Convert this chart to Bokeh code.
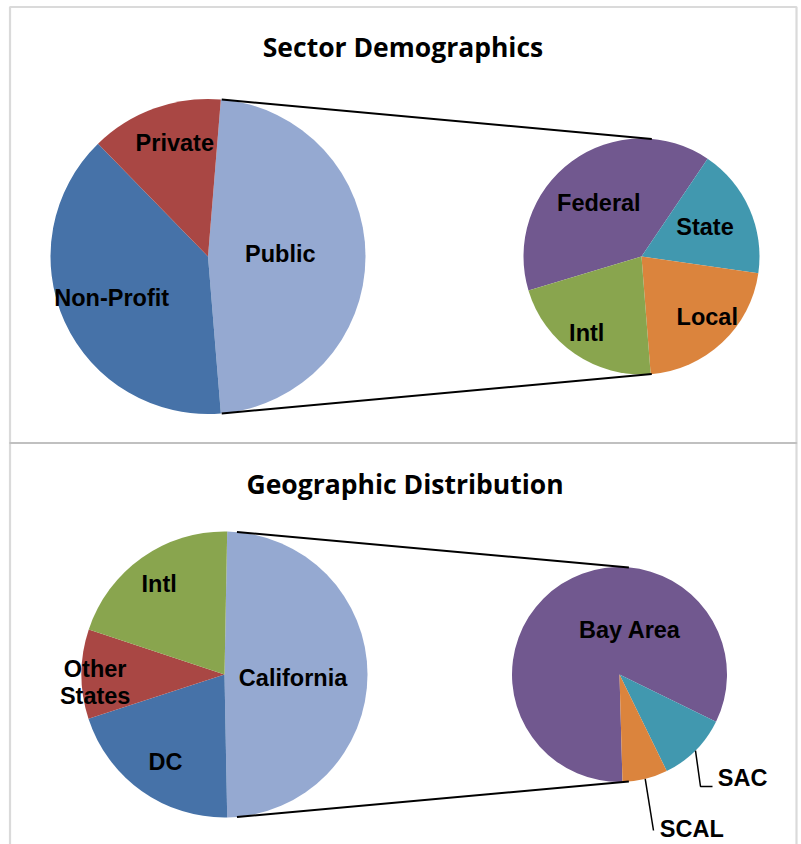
import math
from bokeh.plotting import figure
from bokeh.models import Range1d, ColumnDataSource, BoxAnnotation
from bokeh.embed import file_html
from bokeh.resources import INLINE
from bokeh.core.properties import value

# ---------------- data ----------------
titles = ["Sector Demographics", "Geographic Distribution"]

sector_labels = ["Public", "Non-Profit", "Private"]
sector_values = [47.4, 39.0, 13.6]

public_labels = ["Federal", "State", "Local", "Intl"]
public_values = [39.1, 17.8, 21.5, 21.6]

geo_labels = ["California", "DC", "Other States", "Intl"]
geo_values = [49.4, 20.3, 10.1, 20.2]

ca_labels = ["Bay Area", "SAC", "SCAL"]
ca_values = [82.7, 10.5, 6.8]

# ---------------- styles ----------------
COLORS = {
    "Non-Profit": "#4672A8", "DC": "#4672A8",
    "Private": "#A94744", "Other States": "#A94744",
    "Public": "#95A9D1", "California": "#95A9D1",
    "Federal": "#71588F", "Bay Area": "#71588F",
    "State": "#4198AF", "SAC": "#4198AF",
    "Local": "#DB843D", "SCAL": "#DB843D",
    "Intl": "#89A54E",
}
LABEL_FONT = value("Liberation Sans")
LABEL_SIZE = 23.5
TITLE_FONT = value("Open Sans")
TITLE_SIZE = 26.5

W, H = 801, 844
X0, Y0 = 0, 0


def Y(sy):
    return (Y0 + H) - sy


p = figure(width=W, height=H, x_range=Range1d(X0, X0 + W), y_range=Range1d(0, H),
           output_backend="svg", toolbar_location=None,
           x_axis_location=None, y_axis_location=None, min_border=0,
           outline_line_color=None, background_fill_color="white",
           border_fill_color="white")
p.grid.visible = False

# panel frames
BORDER = "#858585"
p.add_layout(BoxAnnotation(left=9.5, right=796, top=Y(6.5), bottom=Y(442.5),
                           fill_alpha=0, line_color=BORDER, line_width=2.2))
p.add_layout(BoxAnnotation(left=9.5, right=796, top=Y(442.5), bottom=Y(870),
                           fill_alpha=0, line_color=BORDER, line_width=2.2))


def pt(cx, cy, r, deg):
    a = math.radians(deg)
    return cx + r * math.sin(a), cy - r * math.cos(a)


def pie(cx, cy, r, labels, values, start_deg):
    total = float(sum(values))
    starts, ends, mids = [], [], []
    a = start_deg
    for v in values:
        span = 360.0 * v / total
        starts.append(a)
        ends.append(a + span)
        mids.append(a + span / 2)
        a += span
    src = ColumnDataSource(dict(
        start=[math.radians(90 - s) for s in starts],
        end=[math.radians(90 - e) for e in ends],
        color=[COLORS[l] for l in labels]))
    p.wedge(x=cx, y=Y(cy), radius=r, start_angle="start", end_angle="end",
            direction="clock", fill_color="color", line_color=None, source=src)
    return dict(zip(labels, mids))


def inside_labels(cx, cy, r, mids, place):
    xs, ys, ts = [], [], []
    for lab, (f, dth) in place.items():
        x, y = pt(cx, cy, r * f, mids[lab] + dth)
        words = lab.split(" ") if lab == "Other States" else [lab]
        n = len(words)
        for i, w in enumerate(words):
            yy = y + (i - (n - 1) / 2) * 27.3
            xs.append(x)
            ys.append(Y(yy))
            ts.append(w)
    p.text(x=xs, y=ys, text=ts, text_font=LABEL_FONT, text_font_style="bold",
           text_font_size=f"{LABEL_SIZE}px", text_align="center",
           text_baseline="middle", text_color="black")


def connectors(c1, r1, c2, r2, a_top=5.0, a_bot=175.0):
    for a in (a_top, a_bot):
        x1, y1 = pt(c1[0], c1[1], r1, a)
        x2, y2 = pt(c2[0], c2[1], r2, a)
        p.line([x1, x2], [Y(y1), Y(y2)], line_color="black", line_width=2)


def title(text, x, cap_center):
    p.text(x=[x], y=[Y(cap_center)], text=[text], text_font=TITLE_FONT,
           text_font_style="bold", text_font_size=f"{TITLE_SIZE}px",
           text_align="center", text_baseline="middle", text_color="black")


# ---------------- top panel ----------------
title(titles[0], 402.5, 46.5)
big1_c, big1_r = (207.5, 256.0), 157.5
sm1_c, sm1_r = (641.0, 256.0), 118.0
split1 = 360.0 * sector_values[0] / sum(sector_values)
m = pie(big1_c[0], big1_c[1], big1_r, sector_labels, sector_values, 90 - split1 / 2)
inside_labels(big1_c[0], big1_c[1], big1_r, m,
              {"Public": (0.459, -1.8), "Non-Profit": (0.666, 1.1), "Private": (0.751, 3.5)})
m = pie(sm1_c[0], sm1_c[1], sm1_r, public_labels, public_values, 253.3)
inside_labels(sm1_c[0], sm1_c[1], sm1_r, m,
              {"Federal": (0.578, -2.4), "State": (0.593, -0.9),
               "Local": (0.759, -4.1), "Intl": (0.795, 1.3)})
connectors(big1_c, big1_r, sm1_c, sm1_r)

# ---------------- bottom panel ----------------
title(titles[1], 404.6, 483.3)
big2_c, big2_r = (224.0, 674.0), 143.0
sm2_c, sm2_r = (619.0, 674.0), 107.5
split2 = 360.0 * geo_values[0] / sum(geo_values)
m = pie(big2_c[0], big2_c[1], big2_r, geo_labels, geo_values, 90 - split2 / 2)
inside_labels(big2_c[0], big2_c[1], big2_r, m,
              {"California": (0.48, 2.7), "DC": (0.737, -1.4),
               "Other States": (0.906, -3.6), "Intl": (0.782, -0.5)})
m = pie(sm2_c[0], sm2_c[1], sm2_r, ca_labels, ca_values, 178.4)
inside_labels(sm2_c[0], sm2_c[1], sm2_r, m, {"Bay Area": (0.423, 45.9)})
connectors(big2_c, big2_r, sm2_c, sm2_r)

# outside labels with leader lines
outside = {
    "SAC": dict(path=[(700.0, 786.0), (712.0, 786.0)], text=(717.3, 777.6)),
    "SCAL": dict(path=[(653.0, 830.0)], text=(659.3, 828.3)),
}
for lab, spec in outside.items():
    sx, sy = pt(sm2_c[0], sm2_c[1], sm2_r, m[lab])
    xs = [sx] + [q[0] for q in spec["path"]]
    ys = [Y(sy)] + [Y(q[1]) for q in spec["path"]]
    p.line(xs, ys, line_color="black", line_width=1.5)
    tx, ty = spec["text"]
    p.text(x=[tx], y=[Y(ty)], text=[lab], text_font=LABEL_FONT,
           text_font_style="bold", text_font_size=f"{LABEL_SIZE}px",
           text_align="left", text_baseline="middle", text_color="black")

open("out.html", "w").write(file_html(p, INLINE))
